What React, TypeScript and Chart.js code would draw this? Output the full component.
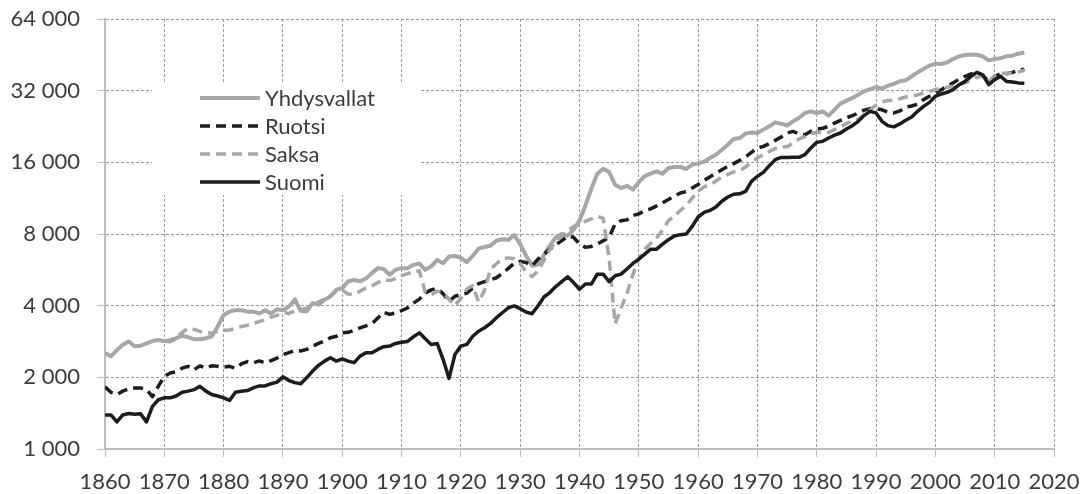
import React, { useEffect, useRef } from 'react';
import { Chart, registerables } from 'chart.js';

Chart.register(...registerables);

const FIRST_YEAR = 1860;

const seriesNames = ['Yhdysvallat', 'Ruotsi', 'Saksa', 'Suomi'];

const yhdysvallat = [
  2530, 2450, 2600, 2740, 2830, 2700, 2715, 2780, 2840, 2870,
  2840, 2830, 2920, 2990, 2950, 2890, 2890, 2920, 2970, 3270,
  3655, 3775, 3830, 3830, 3775, 3775, 3710, 3830, 3710, 3860,
  3830, 3960, 4250, 3800, 3790, 4100, 4040, 4235, 4375, 4665,
  4740, 5060, 5130, 5060, 5200, 5480, 5750, 5700, 5390, 5660,
  5750, 5750, 5935, 6020, 5660, 5850, 6230, 6020, 6430, 6470,
  6350, 6100, 6470, 6960, 7050, 7150, 7500, 7600, 7560, 7920,
  7260, 6480, 5880, 5960, 6520, 7150, 7740, 8000, 7870, 8340,
  9100, 10540, 12390, 14330, 15040, 14560, 12880, 12470, 12750, 12300,
  13210, 14010, 14330, 14660, 14330, 15140, 15280, 15300, 15000, 15650,
  15800, 16100, 16690, 17230, 18080, 18970, 20050, 20240, 21120, 21360,
  21230, 21950, 22660, 23560, 23250, 22850, 23780, 24570, 25780, 26200,
  25780, 26200, 25130, 26630, 28230, 29050, 29810, 30780, 31800, 32500,
  33150, 32600, 33550, 34200, 35040, 35400, 36770, 38200, 39460, 40770,
  41540, 41400, 42100, 43460, 44600, 45200, 45400, 45300, 44600, 42900,
  43460, 43800, 44600, 44900, 45760, 46300,
];

const ruotsi = [
  1825, 1730, 1695, 1750, 1790, 1805, 1805, 1775, 1660, 1835,
  2020, 2085, 2110, 2185, 2225, 2150, 2235, 2185, 2235, 2225,
  2205, 2225, 2185, 2280, 2330, 2300, 2345, 2300, 2350, 2410,
  2490, 2540, 2595, 2580, 2620, 2705, 2775, 2840, 2935, 2975,
  3075, 3090, 3150, 3225, 3290, 3360, 3550, 3750, 3675, 3730,
  3810, 3910, 4100, 4260, 4520, 4660, 4740, 4490, 4170, 4380,
  4450, 4520, 4740, 4950, 5050, 5135, 5240, 5470, 5735, 6035,
  6140, 6070, 5880, 6270, 6580, 6910, 7210, 7500, 7820, 7750,
  7260, 7030, 7090, 7260, 7500, 7750, 8820, 9100, 9170, 9560,
  9720, 10040, 10200, 10500, 10820, 11170, 11540, 11890, 12060, 12480,
  12900, 13440, 13900, 14430, 14900, 15400, 15800, 16300, 16850, 17630,
  18380, 18660, 19170, 19780, 20440, 21250, 21580, 21100, 20900, 21580,
  22050, 22250, 22660, 23400, 24010, 24600, 25130, 25780, 26500, 26900,
  26900, 26600, 25950, 25800, 26300, 27330, 27600, 28080, 29340, 30300,
  31300, 32300, 33400, 34500, 35830, 36770, 37600, 37950, 37050, 35000,
  36770, 37700, 37700, 38200, 38960, 39400,
];

const saksa = [
  null, null, null, null, null, null, null, null, null, null,
  2840, 2870, 2950, 3085, 3215, 3180, 3120, 3085, 3060, 3120,
  3150, 3160, 3215, 3270, 3310, 3370, 3430, 3490, 3580, 3640,
  3740, 3710, 3800, 3850, 3900, 4000, 4150, 4250, 4400, 4600,
  4650, 4480, 4450, 4600, 4750, 4850, 5000, 5150, 5100, 5200,
  5350, 5450, 5550, 5600, 4550, 4450, 4600, 4550, 4250, 4000,
  4300, 4700, 4850, 4150, 4650, 5700, 6000, 6300, 6350, 6300,
  6000, 5550, 5300, 5600, 6200, 6900, 7400, 7850, 8250, 8600,
  8750, 9050, 9250, 9500, 9300, 6300, 3350, 3900, 4500, 5400,
  6300, 6900, 7300, 7700, 8300, 9100, 9500, 10050, 10520, 11330,
  12085, 12610, 12900, 13340, 13900, 14240, 14600, 14750, 15300, 16000,
  16700, 17240, 17760, 18300, 18600, 18600, 19300, 20050, 20500, 21120,
  21360, 21360, 21360, 21950, 22500, 23300, 23800, 24300, 25300, 26600,
  27800, 28700, 29100, 29200, 29600, 30100, 30400, 30700, 31300, 31700,
  32300, 32800, 33100, 33400, 33900, 34500, 35500, 36400, 36900, 35000,
  36700, 37900, 37900, 37900, 38400, 39000,
];

const suomi = [
  1390, 1390, 1300, 1390, 1410, 1400, 1405, 1300, 1510, 1610,
  1640, 1640, 1670, 1730, 1750, 1775, 1835, 1750, 1695, 1670,
  1640, 1600, 1730, 1750, 1760, 1805, 1840, 1840, 1880, 1910,
  2010, 1940, 1900, 1880, 1990, 2125, 2245, 2340, 2415, 2340,
  2390, 2340, 2305, 2455, 2535, 2535, 2620, 2690, 2705, 2775,
  2810, 2830, 2960, 3075, 2905, 2750, 2775, 2380, 1980, 2495,
  2705, 2750, 2975, 3125, 3230, 3370, 3560, 3735, 3920, 3990,
  3885, 3760, 3700, 3990, 4350, 4540, 4810, 5050, 5285, 5000,
  4690, 4930, 4930, 5425, 5425, 5040, 5340, 5425, 5700, 6020,
  6275, 6585, 6910, 6910, 7255, 7575, 7850, 7950, 8000, 8610,
  9430, 9860, 10050, 10380, 10980, 11440, 11750, 11800, 12085, 13310,
  13980, 14520, 15490, 16410, 16780, 16780, 16800, 16800, 17230, 18380,
  19410, 19600, 20250, 20800, 21250, 22080, 22800, 23790, 25200, 26200,
  25800, 23780, 22820, 22550, 23200, 24040, 24800, 26200, 27500, 28570,
  30300, 31000, 31500, 32300, 33900, 35000, 36770, 38200, 37300, 33900,
  35600, 36770, 35000, 34800, 34500, 34400,
];

const yTickValues = [1000, 2000, 4000, 8000, 16000, 32000, 64000];
const X_MIN = 1860;
const X_MAX = 2020;
const X_STEP = 10;

const TEXT = '#3b3b3b';
const FONT = 'Lato, "Open Sans", "DejaVu Sans", sans-serif';
const GRID = '#9a9a9a';
const AXIS = '#bdbdbd';

function fmtThousands(v: number): string {
  const s = String(Math.round(v));
  return s.replace(/\B(?=(\d{3})+(?!\d))/g, ' ');
}

export default function App() {
  const ref = useRef<HTMLCanvasElement>(null);

  useEffect(() => {
    const years = suomi.map((_, i) => FIRST_YEAR + i);
    const toPts = (arr: (number | null)[]) => arr.map((v, i) => ({ x: years[i], y: v }));

    const styles = [
      { color: '#a6a6a6', dash: [] as number[], width: 4, order: 3 },
      { color: '#1c1c1c', dash: [10, 6], width: 3.5, order: 2 },
      { color: '#a6a6a6', dash: [10, 6], width: 3.5, order: 1 },
      { color: '#1c1c1c', dash: [] as number[], width: 3.5, order: 0 },
    ];
    const values = [yhdysvallat, ruotsi, saksa, suomi];

    const datasets = seriesNames.map((name, i) => ({
      label: name,
      data: toPts(values[i]),
      borderColor: styles[i].color,
      backgroundColor: styles[i].color,
      borderWidth: styles[i].width,
      borderDash: styles[i].dash,
      borderJoinStyle: 'round' as const,
      borderCapStyle: 'butt' as const,
      pointRadius: 0,
      tension: 0,
      fill: false,
      spanGaps: false,
      order: styles[i].order,
    }));

    const boxLegend = {
      id: 'boxLegend',
      beforeDatasetsDraw(chart: any) {
        const ctx = chart.ctx;
        ctx.save();
        ctx.fillStyle = '#ffffff';
        ctx.fillRect(152, 83, 269, 112);
        ctx.restore();
      },
      afterDatasetsDraw(chart: any) {
        const ctx = chart.ctx;
        const rowY = [98, 126, 154, 182];
        ctx.save();
        seriesNames.forEach((name, i) => {
          const st = styles[i];
          ctx.beginPath();
          ctx.setLineDash(st.dash);
          ctx.lineWidth = st.width;
          ctx.strokeStyle = st.color;
          ctx.moveTo(200, rowY[i]);
          ctx.lineTo(260, rowY[i]);
          ctx.stroke();
          ctx.setLineDash([]);
          ctx.fillStyle = TEXT;
          ctx.font = `22px ${FONT}`;
          ctx.textBaseline = 'middle';
          ctx.textAlign = 'left';
          ctx.fillText(name, 265, rowY[i] + 1);
        });
        ctx.restore();
      },
    };

    const chart = new Chart(ref.current as HTMLCanvasElement, {
      type: 'line',
      data: { datasets },
      options: {
        responsive: false,
        animation: false,
        devicePixelRatio: 1,
        layout: { padding: { top: 19, right: 29, bottom: 0, left: 0 } },
        plugins: {
          legend: { display: false },
          tooltip: { enabled: false },
        },
        scales: {
          x: {
            type: 'linear',
            min: X_MIN,
            max: X_MAX,
            offset: false,
            ticks: {
              stepSize: X_STEP,
              autoSkip: false,
              maxRotation: 0,
              minRotation: 0,
              color: TEXT,
              font: { family: FONT, size: 22 },
              padding: 12,
              callback: (v: any) => String(v),
            },
            grid: { color: GRID, lineWidth: 1, tickLength: 8, tickColor: AXIS },
            border: { display: true, color: AXIS, width: 2, dash: [3, 2] },
            afterFit: (s: any) => {
              s.height = 45;
              s.paddingLeft = 0;
              s.paddingRight = 0;
            },
          },
          y: {
            type: 'logarithmic',
            min: 1000,
            max: 64000,
            afterBuildTicks: (s: any) => {
              s.ticks = yTickValues.map((v) => ({ value: v }));
            },
            ticks: {
              color: TEXT,
              font: { family: FONT, size: 22 },
              padding: 17,
              autoSkip: false,
              callback: (v: any) => fmtThousands(Number(v)),
            },
            grid: { color: GRID, lineWidth: 1, tickLength: 8, tickColor: AXIS },
            border: { display: true, color: AXIS, width: 2, dash: [3, 2] },
            afterFit: (s: any) => {
              s.width = 105;
              s.paddingTop = 0;
              s.paddingBottom = 0;
            },
          },
        },
      },
      plugins: [boxLegend],
    } as any);

    return () => chart.destroy();
  }, []);

  return (
    <div style={{ position: 'fixed', left: 0, top: 0, width: 1083, height: 494, background: '#fff' }}>
      <canvas ref={ref} width={1083} height={494} style={{ display: 'block', width: 1083, height: 494 }} />
    </div>
  );
}
